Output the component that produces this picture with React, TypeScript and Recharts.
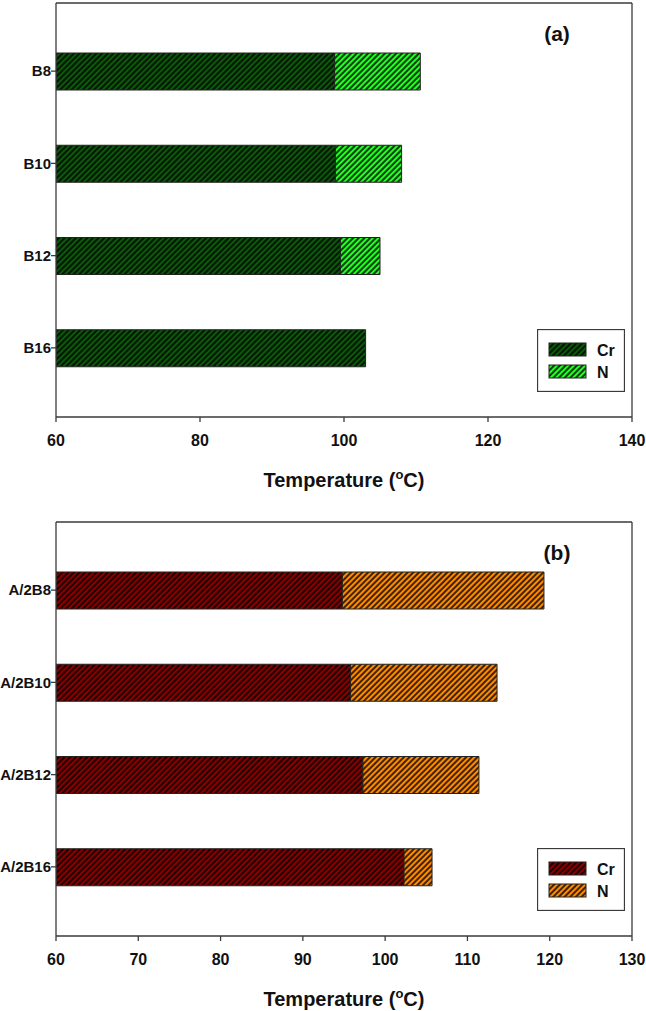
import React from 'react';
import { BarChart, Bar, XAxis, YAxis, Legend } from 'recharts';

// panel (a)
const samplesA = ['B8', 'B10', 'B12', 'B16'];
const crA = [98.7, 98.8, 99.5, 103.0];
const endA = [110.6, 108.0, 105.0, 103.0];
const ticksA = [60, 80, 100, 120, 140];

// panel (b)
const samplesB = ['A/2B8', 'A/2B10', 'A/2B12', 'A/2B16'];
const crB = [94.8, 95.8, 97.3, 102.3];
const endB = [119.3, 113.6, 111.4, 105.7];
const ticksB = [60, 70, 80, 90, 100, 110, 120, 130];

const FONT = 'Arial, "Liberation Sans", sans-serif';
const AXIS = '#3a3a3a';

const buildRows = (names: string[], cr: number[], end: number[]) =>
    names.map((name, i) => ({ name, Cr: cr[i], N: +(end[i] - cr[i]).toFixed(2) }));

const Hatch = ({ id, bg }: { id: string; bg: string }) => (
    <pattern id={id} patternUnits="userSpaceOnUse" width="4" height="4" patternTransform="rotate(45)">
        <rect width="4" height="4" fill={bg} />
        <line x1="2" y1="0" x2="2" y2="4" stroke="#000" strokeWidth="1.5" />
    </pattern>
);

const AxisTitle = (props: any) => {
    const vb = props.viewBox || {};
    return (
        <text x={vb.x + vb.width / 2} y={vb.y + 70} textAnchor="middle" fontFamily={FONT} fontWeight="bold" fontSize={20} fill="#111">
            Temperature (<tspan dy={-8} fontSize={13}>o</tspan><tspan dy={8}>C)</tspan>
        </text>
    );
};

const BoxLegend = (props: any) => {
    const items = props.payload || [];
    return (
        <svg width={88} height={63} style={{ display: 'block' }}>
            <rect x={0.5} y={0.5} width={87} height={62} fill="#fff" stroke={AXIS} strokeWidth={1.3} />
            {items.map((it: any, i: number) => (
                <g key={it.value}>
                    <rect x={12} y={14 + i * 22} width={37} height={13} fill={it.color} stroke="#222" strokeWidth={1} />
                    <text x={60} y={26.5 + i * 22} fontFamily={FONT} fontWeight="bold" fontSize={16} fill="#111">{it.value}</text>
                </g>
            ))}
        </svg>
    );
};

interface PanelProps {
    tag: string;
    rows: { name: string; Cr: number; N: number }[];
    ticks: number[];
    crColor: string;
    nColor: string;
}

const Panel = ({ tag, rows, ticks, crColor, nColor }: PanelProps) => {
    const tickStyle = { fontFamily: FONT, fontWeight: 'bold', fontSize: 16, fill: '#111' };
    const catStyle = { fontFamily: FONT, fontWeight: 'bold', fontSize: 15, fill: '#111' };
    const domain: [number, number] = [ticks[0], ticks[ticks.length - 1]];
    const line = { stroke: AXIS, strokeWidth: 1.3 };
    return (
        <BarChart width={646} height={519} data={rows} layout="vertical" margin={{ top: 2, right: 13, bottom: 0, left: 0 }}>
            <defs>
                <Hatch id={`cr-${tag}`} bg={crColor} />
                <Hatch id={`n-${tag}`} bg={nColor} />
            </defs>
            <XAxis
                type="number"
                domain={domain}
                ticks={ticks}
                allowDataOverflow
                height={102}
                tickSize={5}
                tickMargin={13}
                tick={tickStyle}
                axisLine={line}
                tickLine={line}
                label={<AxisTitle />}
            />
            {/* frame: top and right edges */}
            <XAxis xAxisId="top" orientation="top" type="number" domain={domain} ticks={ticks} height={1} tick={false} tickLine={false} axisLine={line} />
            <YAxis
                type="category"
                dataKey="name"
                width={56}
                padding={{ top: 22, bottom: 23 }}
                tickSize={5}
                tickMargin={0}
                tick={catStyle}
                axisLine={line}
                tickLine={line}
            />
            <YAxis yAxisId="right" orientation="right" type="category" dataKey="name" width={1} tick={false} tickLine={false} axisLine={line} />
            <Legend
                layout="vertical"
                align="center"
                verticalAlign="middle"
                content={<BoxLegend />}
                wrapperStyle={{ position: 'absolute', left: 537, top: 329, width: 88, height: 63 }}
            />
            <Bar dataKey="Cr" name="Cr" stackId="t" barSize={37} fill={`url(#cr-${tag})`} stroke="#222" strokeWidth={1} isAnimationActive={false} />
            <Bar dataKey="N" name="N" stackId="t" barSize={37} fill={`url(#n-${tag})`} stroke="#222" strokeWidth={1} isAnimationActive={false} />
            <text x={557} y={41} textAnchor="middle" fontFamily={FONT} fontWeight="bold" fontSize={21} fill="#111">({tag})</text>
        </BarChart>
    );
};

export default function App() {
    return (
        <div style={{ position: 'absolute', left: 0, top: 0, width: 646, height: 1011, background: '#fff' }}>
            <Panel tag="a" rows={buildRows(samplesA, crA, endA)} ticks={ticksA} crColor="#0a5a0a" nColor="#22ff22" />
            <Panel tag="b" rows={buildRows(samplesB, crB, endB)} ticks={ticksB} crColor="#8a0000" nColor="#ff8a00" />
        </div>
    );
}
